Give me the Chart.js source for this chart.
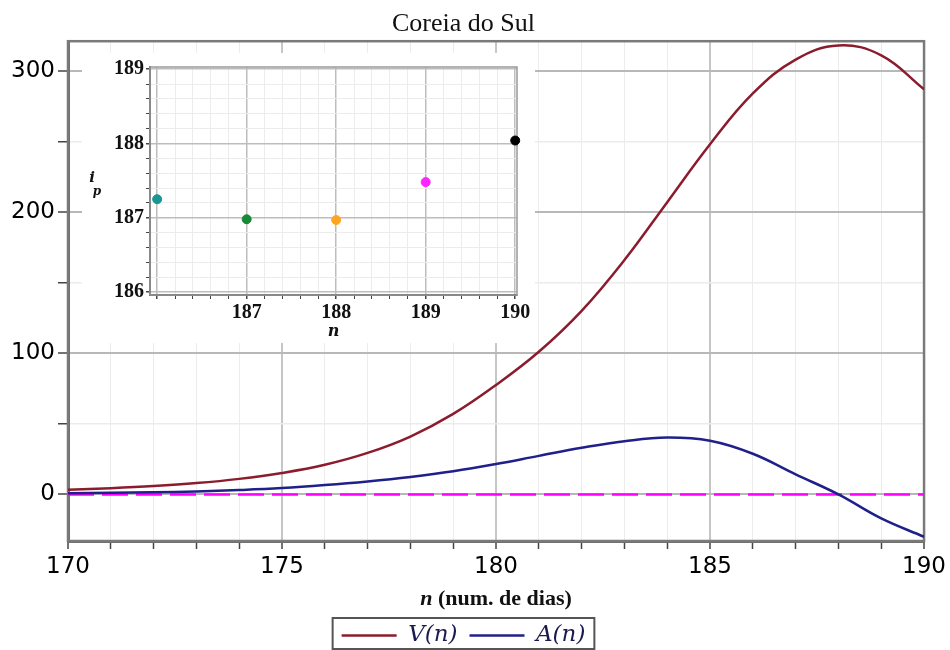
<!DOCTYPE html>
<html>
<head>
<meta charset="utf-8">
<script src="https://cdn.jsdelivr.net/npm/chart.js@4.4.1/dist/chart.umd.min.js"></script>
<style>
  html, body { margin: 0; padding: 0; background: #fff; }
  #wrap { position: relative; width: 950px; height: 650px; }
  #mainChart { position: absolute; left: 0; top: 0; }
  #insetChart { position: absolute; left: 82px; top: 53px; background: #fff; }
</style>
</head>
<body>
<div id="wrap">
  <canvas id="mainChart" width="950" height="650"></canvas>
  <canvas id="insetChart" width="453" height="290"></canvas>
</div>
<script>
// main plot data
const days = [170, 171, 172, 173, 174, 175, 176, 177, 178, 179, 180,
              181, 182, 183, 184, 185, 186, 187, 188, 189, 190];
const vValues = [3.3, 4.4, 5.9, 8.0, 11.0, 15.2, 21.0, 29.4, 41, 57, 77.5,
                 101, 130, 166, 207, 248, 284, 308, 318, 311, 287];
const aValues = [0.8, 1.1, 1.5, 2.1, 3.1, 4.5, 6.6, 9.2, 12.4, 16.4, 21.5,
                 27.3, 33, 37.7, 40.3, 38, 28.8, 14.2, 0, -17, -30];
const zeroDays = [170, 190];
const zeroValues = [0, 0];
const xLabels = [170, 175, 180, 185, 190];
const yLabels = [0, 100, 200, 300];

// inset data
const insetDays = [186, 187, 188, 189, 190];
const insetPeak = [187.25, 186.98, 186.97, 187.48, 188.04];
const insetColors = ['#1b9494', '#178a35', '#ffa521', '#ff24ff', '#000000'];
const insetXLabels = [187, 188, 189, 190];
const insetYLabels = [186, 187, 188, 189];

function toXY(xs, ys) {
    return xs.map((x, i) => ({ x: x, y: ys[i] }));
}
function isWhole(v) {
    return Math.abs(v - Math.round(v)) < 1e-6;
}

// box around the plot area
const frame = {
    id: 'frame',
    beforeDatasetsDraw(chart, args, opts) {
        const { ctx, chartArea: a } = chart;
        ctx.save();
        ctx.strokeStyle = opts.color;
        ctx.lineWidth = opts.width;
        ctx.strokeRect(a.left, a.top, a.right - a.left, a.bottom - a.top);
        ctx.restore();
    }
};

// border round the legend
const legendBox = {
    id: 'legendBox',
    afterDraw(chart) {
        const lg = chart.legend;
        if (!lg || !lg.legendHitBoxes || !lg.legendHitBoxes.length) return;
        const boxes = lg.legendHitBoxes;
        const left = Math.min(...boxes.map(b => b.left)) - 9;
        const right = Math.max(...boxes.map(b => b.left + b.width)) + 9;
        const top = boxes[0].top - 6;
        const ctx = chart.ctx;
        ctx.save();
        ctx.strokeStyle = '#555';
        ctx.lineWidth = 2;
        ctx.strokeRect(left, top, right - left, chart.height - 1 - top);
        ctx.restore();
    }
};

// x axis title with an italic n
const xTitle = {
    id: 'xTitle',
    afterDraw(chart) {
        const { ctx, chartArea: a } = chart;
        const part1 = 'n';
        const part2 = ' (num. de dias)';
        ctx.save();
        ctx.fillStyle = '#111';
        ctx.textBaseline = 'middle';
        ctx.font = 'italic bold 22px "Liberation Serif"';
        const w1 = ctx.measureText(part1).width;
        ctx.font = 'bold 22px "Liberation Serif"';
        const w2 = ctx.measureText(part2).width;
        const x0 = (a.left + a.right) / 2 - (w1 + w2) / 2;
        const y = 599;
        ctx.font = 'italic bold 22px "Liberation Serif"';
        ctx.fillText(part1, x0, y);
        ctx.font = 'bold 22px "Liberation Serif"';
        ctx.fillText(part2, x0 + w1, y);
        ctx.restore();
    }
};

const mainCtx = document.getElementById('mainChart').getContext('2d');
const mainChart = new Chart(mainCtx, {
    type: 'line',
    data: {
        datasets: [
            {
                label: 'V(n)',
                data: toXY(days, vValues),
                borderColor: '#8b1c2e',
                backgroundColor: '#8b1c2e',
                borderWidth: 2.5,
                pointRadius: 0,
                tension: 0.4
            },
            {
                label: 'A(n)',
                data: toXY(days, aValues),
                borderColor: '#20208a',
                backgroundColor: '#20208a',
                borderWidth: 2.5,
                pointRadius: 0,
                tension: 0.4
            },
            {
                label: 'zero',
                data: toXY(zeroDays, zeroValues),
                borderColor: '#ff00ff',
                borderWidth: 2.5,
                borderDash: [26, 8],
                pointRadius: 0
            }
        ]
    },
    options: {
        responsive: false,
        animation: false,
        layout: { padding: { left: 0, right: 23, top: 0, bottom: -7 } },
        plugins: {
            frame: { color: '#7a7a7a', width: 2.5 },
            tooltip: { enabled: false },
            title: {
                display: true,
                text: 'Coreia do Sul',
                color: '#111',
                font: { family: 'Liberation Serif', size: 26, weight: 'normal' },
                padding: { top: 9, bottom: 1 }
            },
            legend: {
                position: 'bottom',
                labels: {
                    usePointStyle: true,
                    pointStyle: 'line',
                    pointStyleWidth: 55,
                    padding: 12,
                    color: '#1a1a50',
                    font: { family: 'DejaVu Serif', size: 23, style: 'italic' },
                    filter: item => item.datasetIndex < 2
                }
            }
        },
        scales: {
            x: {
                type: 'linear',
                min: 170,
                max: 190,
                afterFit: s => { s.height = 71; },
                ticks: {
                    stepSize: 1,
                    autoSkip: false,
                    maxRotation: 0,
                    padding: 4,
                    color: '#000',
                    font: { family: 'DejaVu Sans', size: 23 },
                    callback: v => xLabels.includes(v) ? String(v) : ''
                },
                grid: {
                    color: c => (c.tick && xLabels.includes(c.tick.value)) ? '#c6c6c6' : '#ececec',
                    lineWidth: c => (c.tick && xLabels.includes(c.tick.value)) ? 2 : 1,
                    tickColor: '#444',
                    tickLength: 8,
                    tickWidth: 1.5
                },
                border: { color: '#6e6e6e', width: 3 },
                title: { display: false }
            },
            y: {
                min: -33,
                max: 321,
                afterFit: s => { s.width = 68; },
                ticks: {
                    stepSize: 50,
                    includeBounds: false,
                    padding: 3,
                    color: '#000',
                    font: { family: 'DejaVu Sans', size: 23 },
                    callback: v => yLabels.includes(v) ? String(v) : ''
                },
                grid: {
                    color: c => (c.tick && yLabels.includes(c.tick.value)) ? '#b8b8b8' : '#ececec',
                    lineWidth: c => (c.tick && yLabels.includes(c.tick.value)) ? 2 : 1.5,
                    tickColor: '#444',
                    tickLength: 10,
                    tickWidth: 1.5
                },
                border: { color: '#6e6e6e', width: 3 }
            }
        }
    },
    plugins: [frame, legendBox, xTitle]
});

// i_p label for the inset's y axis
const ipLabel = {
    id: 'ipLabel',
    afterDraw(chart) {
        const ctx = chart.ctx;
        ctx.save();
        ctx.fillStyle = '#111';
        ctx.textAlign = 'center';
        ctx.textBaseline = 'middle';
        ctx.font = 'italic bold 15px "DejaVu Serif"';
        ctx.fillText('i', 10, 125);
        ctx.font = 'italic bold 12px "DejaVu Serif"';
        ctx.fillText('p', 15, 139);
        ctx.restore();
    }
};

const insetCtx = document.getElementById('insetChart').getContext('2d');
const insetChart = new Chart(insetCtx, {
    type: 'scatter',
    data: {
        datasets: [{
            label: 'i_p',
            data: toXY(insetDays, insetPeak),
            pointBackgroundColor: insetColors,
            pointBorderColor: insetColors,
            pointRadius: 4.5,
            showLine: false,
            clip: false
        }]
    },
    options: {
        responsive: false,
        animation: false,
        layout: { padding: { left: 0, right: 18, top: 13, bottom: 0 } },
        plugins: {
            frame: { color: '#9a9a9a', width: 1.5 },
            legend: { display: false },
            tooltip: { enabled: false }
        },
        scales: {
            x: {
                type: 'linear',
                min: 185.92,
                max: 190.02,
                afterFit: s => { s.height = 48; },
                ticks: {
                    stepSize: 0.2,
                    includeBounds: false,
                    autoSkip: false,
                    maxRotation: 0,
                    padding: 2,
                    color: '#111',
                    font: { family: 'Liberation Serif', size: 20, weight: 'bold' },
                    callback: v => (isWhole(v) && insetXLabels.includes(Math.round(v))) ? String(Math.round(v)) : ''
                },
                grid: {
                    color: c => (c.tick && isWhole(c.tick.value)) ? '#bdbdbd' : '#ececec',
                    lineWidth: c => (c.tick && isWhole(c.tick.value)) ? 1.5 : 1,
                    tickColor: '#444',
                    tickLength: 4
                },
                border: { color: '#555', width: 2 },
                title: {
                    display: true,
                    text: 'n',
                    color: '#111',
                    font: { family: 'DejaVu Serif', size: 16, weight: 'bold', style: 'italic' },
                    padding: { top: 0, bottom: 2 }
                }
            },
            y: {
                min: 185.96,
                max: 189.03,
                afterFit: s => { s.width = 68; },
                ticks: {
                    stepSize: 0.2,
                    includeBounds: false,
                    autoSkip: false,
                    padding: 2,
                    color: '#111',
                    font: { family: 'Liberation Serif', size: 20, weight: 'bold' },
                    callback: v => (isWhole(v) && insetYLabels.includes(Math.round(v))) ? String(Math.round(v)) : ''
                },
                grid: {
                    color: c => (c.tick && isWhole(c.tick.value)) ? '#bdbdbd' : '#ececec',
                    lineWidth: c => (c.tick && isWhole(c.tick.value)) ? 1.5 : 1,
                    tickColor: '#444',
                    tickLength: 4
                },
                border: { color: '#555', width: 2 }
            }
        }
    },
    plugins: [frame, ipLabel]
});
</script>
</body>
</html>
